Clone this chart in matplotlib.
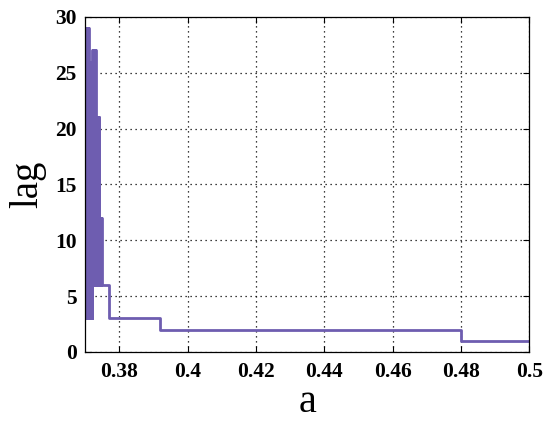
import matplotlib
matplotlib.use("Agg")
from matplotlib import pyplot as plt

# step breakpoints (a) and the lag value that holds from each breakpoint on
a_vals = [
    0.3700, 0.3701, 0.3702, 0.3703, 0.3704, 0.3705, 0.3706, 0.3707, 0.3708, 0.3709,
    0.3710, 0.3711, 0.3712, 0.3713, 0.3714, 0.3715, 0.3716, 0.3717, 0.3718, 0.3719,
    0.3720, 0.3721, 0.3722, 0.3723, 0.3724, 0.3725, 0.3726, 0.3727, 0.3728, 0.3729,
    0.3730, 0.3731, 0.3732, 0.3733, 0.3734, 0.3735, 0.3736, 0.3737, 0.3738, 0.3739,
    0.3740, 0.3741, 0.3742, 0.3743, 0.3744, 0.3745, 0.3746, 0.3747, 0.3748, 0.3749,
    0.3750, 0.3770, 0.3919, 0.4801, 0.5000,
]
lag_vals = [
    28, 3, 28, 3, 29, 3, 29, 3, 29, 3,
    29, 3, 26, 3, 26, 3, 26, 3, 18, 3,
    26, 3, 27, 6, 27, 6, 27, 6, 27, 6,
    27, 6, 21, 6, 21, 6, 21, 6, 21, 6,
    21, 6, 12, 6, 12, 6, 12, 6, 12, 6,
    6, 3, 2, 1, 1,
]

x_ticks = [0.38, 0.4, 0.42, 0.44, 0.46, 0.48, 0.5]
x_tick_labels = ["0.38", "0.4", "0.42", "0.44", "0.46", "0.48", "0.5"]
y_ticks = [0, 5, 10, 15, 20, 25, 30]

plt.rcParams["font.family"] = ["Liberation Serif", "DejaVu Serif"]

fig = plt.figure(figsize=(5.5, 4.24), dpi=100)
ax = fig.add_axes([0.1545, 0.17, 0.808, 0.79])

ax.plot(a_vals, lag_vals, drawstyle="steps-post", color="#6e5db0", linewidth=2.0)

ax.set_xlim(0.37, 0.5)
ax.set_ylim(0, 30)
ax.set_xticks(x_ticks)
ax.set_xticklabels(x_tick_labels)
ax.set_yticks(y_ticks)

ax.grid(True, linestyle=(0, (1, 3)), color="black", linewidth=0.9)
ax.tick_params(direction="in", top=True, right=True, length=4, width=0.8,
               labelsize=15.5)
ax.tick_params(axis="x", pad=7)
ax.tick_params(axis="y", pad=6)
for lbl in ax.get_xticklabels() + ax.get_yticklabels():
    lbl.set_fontweight("bold")
for sp in ax.spines.values():
    sp.set_linewidth(0.9)

ax.set_xlabel("a", fontsize=29, labelpad=2)
ax.set_ylabel("lag", fontsize=28, labelpad=6)

fig.savefig("out.png", dpi=100)
